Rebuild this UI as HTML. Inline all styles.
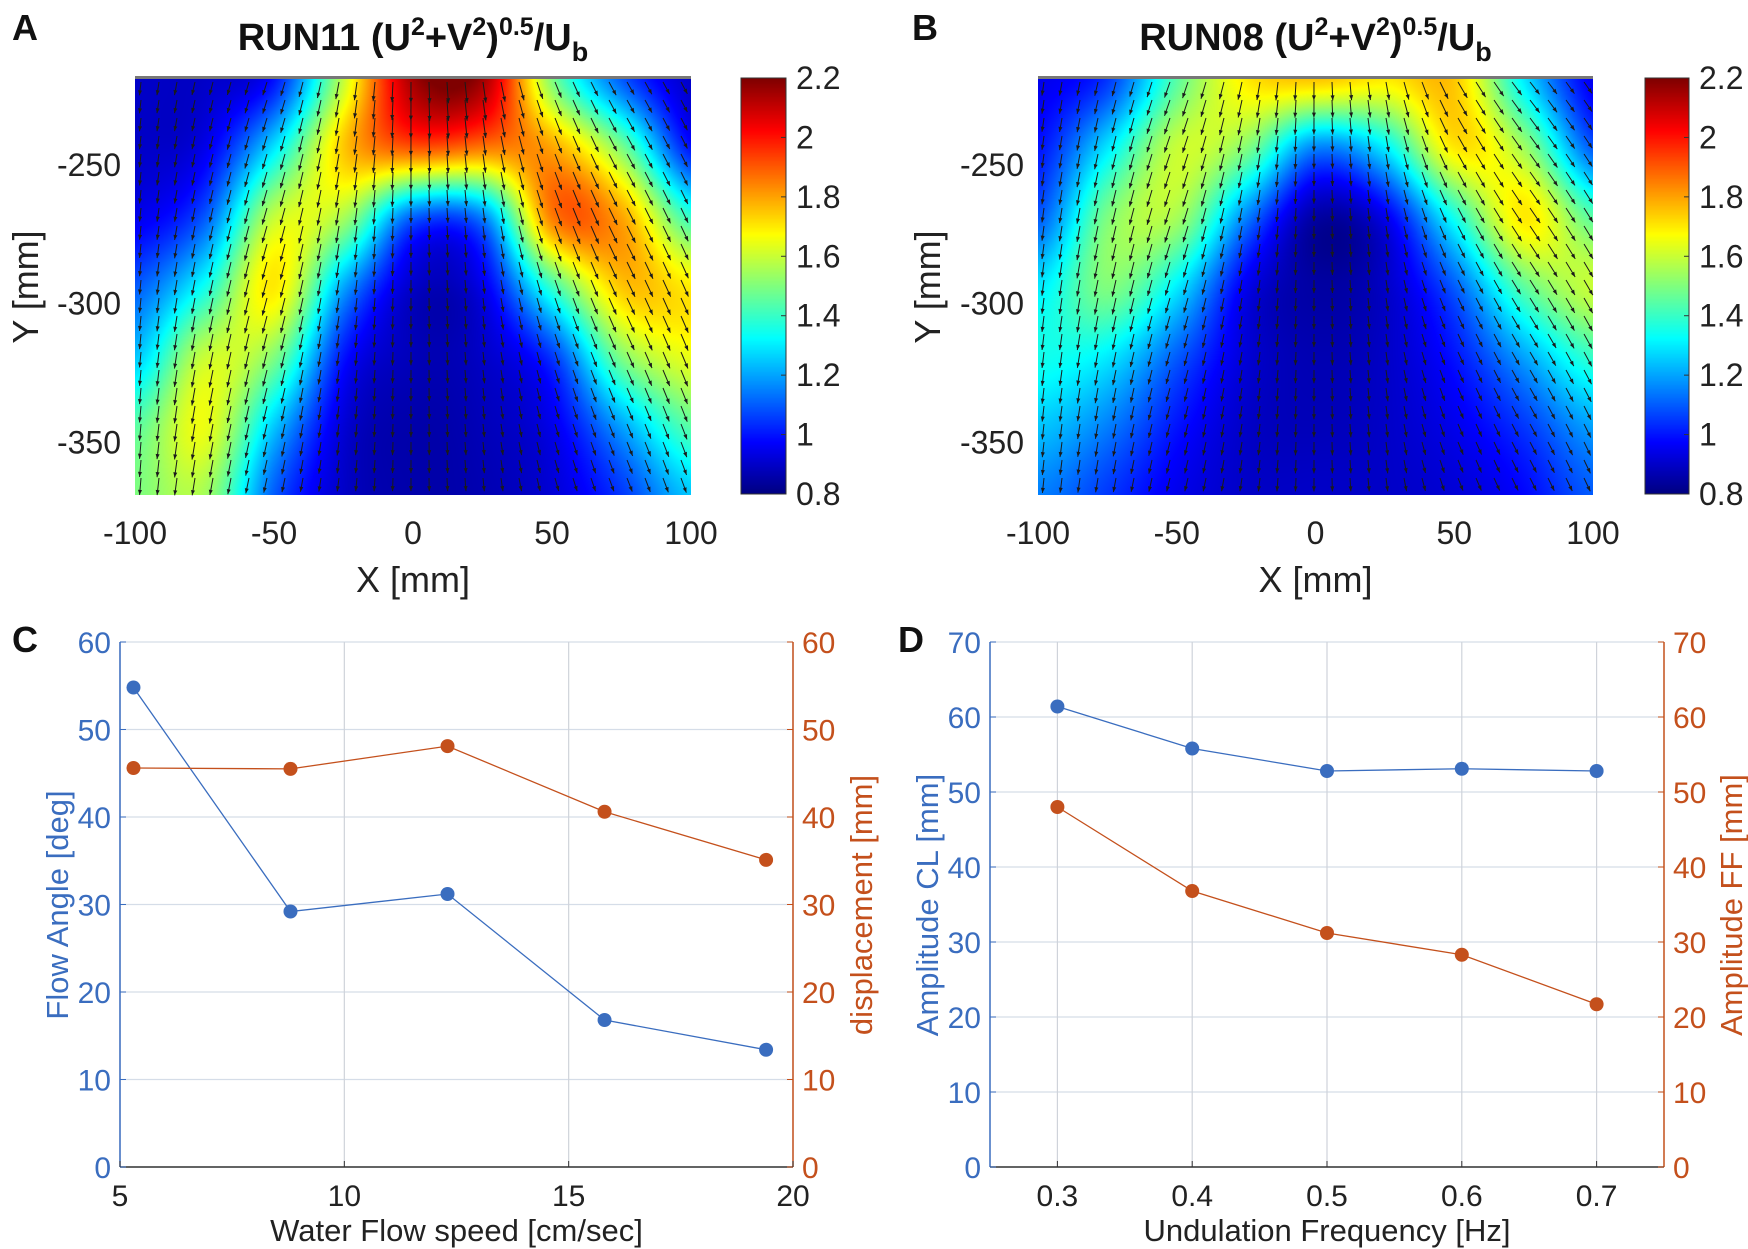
<!DOCTYPE html>
<html><head><meta charset="utf-8">
<style>
html,body{margin:0;padding:0;background:#fff;}
#root{position:relative;width:1748px;height:1249px;overflow:hidden;font-family:"Liberation Sans",Arial,sans-serif;}
canvas{position:absolute;}
svg{position:absolute;left:0;top:0;}
</style></head>
<body>
<div id="root">
<canvas id="hmA"></canvas>
<canvas id="hmB"></canvas>
<canvas id="cbA"></canvas>
<canvas id="cbB"></canvas>
<svg id="svg" width="1748" height="1249" xmlns="http://www.w3.org/2000/svg"></svg>
</div>
<script>
// ---------- DATA ----------
const hmX = [-100,-75,-50,-25,0,25,50,75,100];
const hmY = [-219,-244,-269,-294,-319,-344,-369];
const fieldA = [
 [0.9,0.9,1.0,1.6,2.15,2.15,1.5,1.1,0.9],
 [0.9,0.95,1.3,1.75,1.9,1.85,1.8,1.5,1.0],
 [0.95,1.1,1.6,1.55,1.1,1.15,1.85,1.8,1.4],
 [1.1,1.35,1.7,1.2,0.9,0.95,1.4,1.75,1.7],
 [1.25,1.6,1.5,1.0,0.88,0.9,1.05,1.5,1.65],
 [1.45,1.65,1.25,0.92,0.86,0.88,0.95,1.2,1.45],
 [1.5,1.55,1.1,0.9,0.86,0.87,0.92,1.05,1.25]
];
const fieldB = [
 [0.95,1.05,1.45,1.7,1.75,1.7,1.75,1.3,0.95],
 [1.0,1.3,1.6,1.5,1.15,1.3,1.7,1.55,1.1],
 [1.1,1.5,1.55,1.15,0.85,0.95,1.35,1.7,1.45],
 [1.3,1.5,1.3,0.95,0.85,0.9,1.1,1.45,1.6],
 [1.35,1.3,1.1,0.92,0.87,0.9,1.0,1.2,1.4],
 [1.25,1.15,1.0,0.9,0.88,0.9,0.95,1.05,1.2],
 [1.15,1.05,0.95,0.9,0.9,0.9,0.92,0.98,1.1]
];
const angleA = [-6,-14,-18,-10,0,8,22,30,28];
const angleB = [-8,-14,-20,-12,0,10,30,38,35];
const hmXTicks = [-100,-50,0,50,100];
const hmYTicks = [-250,-300,-350];
const cbTicks = [0.8,1,1.2,1.4,1.6,1.8,2,2.2];

const speedC = [5.3,8.8,12.3,15.8,19.4];
const angleC = [54.8,29.2,31.2,16.8,13.4];
const dispC = [45.6,45.5,48.1,40.6,35.1];
const xTicksC = [5,10,15,20];
const yTicksC = [0,10,20,30,40,50,60];

const freqD = [0.3,0.4,0.5,0.6,0.7];
const ampCL = [61.4,55.8,52.8,53.1,52.8];
const ampFF = [48.0,36.8,31.2,28.3,21.7];
const xTicksD = [0.3,0.4,0.5,0.6,0.7];
const yTicksD = [0,10,20,30,40,50,60,70];

// ---------- HELPERS ----------
const svg = document.getElementById('svg');
const NS = 'http://www.w3.org/2000/svg';
function mk(tag, attrs, parent){const e=document.createElementNS(NS,tag);for(const k in attrs)e.setAttribute(k,attrs[k]);(parent||svg).appendChild(e);return e;}
function txt(x,y,s,size,anchor,fill,weight){const t=mk('text',{x:x,y:y,'font-size':size,'text-anchor':anchor||'middle',fill:fill||'#222','font-family':'Liberation Sans, Arial, sans-serif','font-weight':weight||'normal'});t.textContent=s;return t;}
function jet(v){v=Math.max(0,Math.min(1,v));
 const r=Math.max(0,Math.min(1,1.5-Math.abs(4*v-3)));
 const g=Math.max(0,Math.min(1,1.5-Math.abs(4*v-2)));
 const b=Math.max(0,Math.min(1,1.5-Math.abs(4*v-1)));
 return [r*255|0,g*255|0,b*255|0];}
function cr(p0,p1,p2,p3,t){return 0.5*((2*p1)+(-p0+p2)*t+(2*p0-5*p1+4*p2-p3)*t*t+(-p0+3*p1-3*p2+p3)*t*t*t);}
function interp(field,x,y){
 const nx=hmX.length,ny=hmY.length;
 let fx=(x-hmX[0])/(hmX[nx-1]-hmX[0])*(nx-1);
 let fy=(y-hmY[0])/(hmY[ny-1]-hmY[0])*(ny-1);
 fx=Math.max(0,Math.min(nx-1.0001,fx));fy=Math.max(0,Math.min(ny-1.0001,fy));
 const i=Math.floor(fx),j=Math.floor(fy),a=fx-i,b=fy-j;
 const cl=(v,n)=>Math.max(0,Math.min(n-1,v));
 const rows=[];
 for(let dj=-1;dj<=2;dj++){const r=field[cl(j+dj,ny)];
   rows.push(cr(r[cl(i-1,nx)],r[i],r[cl(i+1,nx)],r[cl(i+2,nx)],a));}
 return cr(rows[0],rows[1],rows[2],rows[3],b);}
function interp1(arr,x){let fx=(x-hmX[0])/(hmX[hmX.length-1]-hmX[0])*(hmX.length-1);fx=Math.max(0,Math.min(hmX.length-1.0001,fx));const i=Math.floor(fx),a=fx-i;return arr[i]*(1-a)+arr[i+1]*a;}

function heatPanel(o){
 const L=o.left,R=o.right,T=78,B=495;
 const xs=v=>L+(v+100)/200*(R-L);
 const ys=v=>T+(v-(-218.6))/(-369-(-218.6))*(B-T);
 const cv=document.getElementById(o.canvas);cv.width=R-L;cv.height=B-T;cv.style.left=L+'px';cv.style.top=T+'px';
 const ctx=cv.getContext('2d');const img=ctx.createImageData(R-L,B-T);
 for(let py=0;py<B-T;py++)for(let px=0;px<R-L;px++){
   const xv=-100+px/(R-L)*200, yv=-218.6+py/(B-T)*(-150.4);
   const c=jet((interp(o.field,xv,yv)-0.8)/1.4);const k=(py*(R-L)+px)*4;
   img.data[k]=c[0];img.data[k+1]=c[1];img.data[k+2]=c[2];img.data[k+3]=255;}
 ctx.putImageData(img,0,0);
 mk('rect',{x:L,y:T-2,width:R-L,height:3,fill:'#777'});
 const g=mk('g',{stroke:'#1a1a1a','stroke-width':1,fill:'#1a1a1a'});
 
 
 for(let cx=L+6;cx<R;cx+=18){for(let cy=T+4;cy<B-4;cy+=18){
   const xv=-100+(cx-L)/(R-L)*200, yv=-218.6+(cy-T)/(B-T)*(-150.4);
   const m=interp(o.field,xv,yv);const depth=(cy-T)/(B-T);
   const ang=interp1(o.angles,xv)*(1-0.3*depth)*Math.PI/180;
   const len=8+6*m;const dx=Math.sin(ang)*len, dy=Math.cos(ang)*len;
   const x2=cx+dx,y2=cy+dy;
   mk('line',{x1:cx,y1:cy,x2:x2,y2:y2},g);
   const ux=dx/len,uy=dy/len;
   mk('polygon',{points:`${x2},${y2} ${x2-ux*5-uy*2},${y2-uy*5+ux*2} ${x2-ux*5+uy*2},${y2-uy*5-ux*2}`,stroke:'none'},g);
 }}
 hmXTicks.forEach(v=>{const t=txt(xs(v),544,String(v),32,'middle','#222');});
 hmYTicks.forEach(v=>{const t=txt(L-14,ys(v)+11,String(v),32,'end','#222');});
 const xl=txt((L+R)/2,592,'X [mm]',36,'middle','#222');
 const yl=txt(0,0,'Y [mm]',36,'middle','#222');yl.setAttribute('transform',`translate(${o.ylabX},287) rotate(-90)`);
 const tt=mk('text',{x:(L+R)/2,y:50,'font-size':38,'font-weight':'bold','text-anchor':'middle',fill:'#111','font-family':'Liberation Sans, Arial, sans-serif'});
 
 tt.innerHTML=o.run+' (U<tspan dy="-15" font-size="25">2</tspan><tspan dy="15">+V</tspan><tspan dy="-15" font-size="25">2</tspan><tspan dy="15">)</tspan><tspan dy="-15" font-size="25">0.5</tspan><tspan dy="15">/U</tspan><tspan dy="11" font-size="27">b</tspan>';
 const pl=txt(o.letterX,40,o.letter,36,'start','#111','bold');
 const cb=document.getElementById(o.cb);const cw=o.cbR-o.cbL,ch=B-1-T;cb.width=cw;cb.height=ch;cb.style.left=o.cbL+'px';cb.style.top=T+'px';
 const c2=cb.getContext('2d');for(let py=0;py<ch;py++){const c=jet(1-py/ch);c2.fillStyle=`rgb(${c[0]},${c[1]},${c[2]})`;c2.fillRect(0,py,cw,1);}
 mk('rect',{x:o.cbL,y:T,width:cw,height:ch,fill:'none',stroke:'#333','stroke-width':1});
 cbTicks.forEach(v=>{const y=T+(2.2-v)/1.4*ch;mk('line',{x1:o.cbR-5,y1:y,x2:o.cbR,y2:y,stroke:'#333'});
   const t=txt(o.cbR+10,y+11,String(v),32,'start','#222');});
}
heatPanel({left:135,right:691,canvas:'hmA',field:fieldA,angles:angleA,run:'RUN11',letter:'A',letterX:12,ylabX:38,cb:'cbA',cbL:741,cbR:786});
heatPanel({left:1038,right:1593,canvas:'hmB',field:fieldB,angles:angleB,run:'RUN08',letter:'B',letterX:912,ylabX:940,cb:'cbB',cbL:1645,cbR:1689});

const BLUE='#3a6dbf',ORANGE='#c4501c';
function linePanel(o){
 const L=o.left,R=o.right,T=642,B=1167;
 const xs=v=>L+(v-o.xmin)/(o.xmax-o.xmin)*(R-L);
 const ys=v=>B-(v-0)/(o.ymax)*(B-T);
 o.yTicks.forEach(v=>{mk('line',{x1:L,y1:ys(v),x2:R,y2:ys(v),stroke:'#d5dde8','stroke-width':1.2});});
 o.xTicks.forEach(v=>{mk('line',{x1:xs(v),y1:T,x2:xs(v),y2:B,stroke:'#cfd3da','stroke-width':1.2});});
 mk('line',{x1:L,y1:T,x2:L,y2:B,stroke:BLUE,'stroke-width':1.5});
 mk('line',{x1:R,y1:T,x2:R,y2:B,stroke:ORANGE,'stroke-width':1.5});
 mk('line',{x1:L,y1:B,x2:R,y2:B,stroke:'#333','stroke-width':1.5});
 o.yTicks.forEach(v=>{const y=ys(v);
   mk('line',{x1:L,y1:y,x2:L+6,y2:y,stroke:BLUE});mk('line',{x1:R-6,y1:y,x2:R,y2:y,stroke:ORANGE});
   const a=txt(L-9,y+11,String(v),30,'end',BLUE);
   const b=txt(R+9,y+11,String(v),30,'start',ORANGE);});
 o.xTicks.forEach(v=>{mk('line',{x1:xs(v),y1:B-6,x2:xs(v),y2:B,stroke:'#333'});
   const t=txt(xs(v),1206,String(v),30,'middle','#222');});
 [[o.s1,BLUE,'series-left'],[o.s2,ORANGE,'series-right']].forEach(([s,c,n])=>{
   const pts=o.x.map((v,i)=>xs(v)+','+ys(s[i])).join(' ');
   const pl=mk('polyline',{points:pts,fill:'none',stroke:c,'stroke-width':1.3});
   
   o.x.forEach((v,i)=>{const m=mk('circle',{cx:xs(v),cy:ys(s[i]),r:7,fill:c});
     });});
 const xl=txt((L+R)/2,1241,o.xlab,31,'middle','#222');
 const y1=txt(0,0,o.ylab1,31,'middle',BLUE);y1.setAttribute('transform',`translate(${o.yl1},905) rotate(-90)`);
 const y2=txt(0,0,o.ylab2,31,'middle',ORANGE);y2.setAttribute('transform',`translate(${o.yl2},905) rotate(-90)`);
 const pl=txt(o.letterX,652,o.letter,36,'start','#111','bold');
}
linePanel({left:120,right:793,xmin:5,xmax:20,ymax:60,x:speedC,s1:angleC,s2:dispC,xTicks:xTicksC,yTicks:yTicksC,xlab:'Water Flow speed [cm/sec]',ylab1:'Flow Angle [deg]',ylab2:'displacement [mm]',yl1:68,yl2:872,letter:'C',letterX:12});
linePanel({left:990,right:1664,xmin:0.25,xmax:0.75,ymax:70,x:freqD,s1:ampCL,s2:ampFF,xTicks:xTicksD,yTicks:yTicksD,xlab:'Undulation Frequency [Hz]',ylab1:'Amplitude CL [mm]',ylab2:'Amplitude FF [mm]',yl1:938,yl2:1742,letter:'D',letterX:898});
</script>
</body></html>
